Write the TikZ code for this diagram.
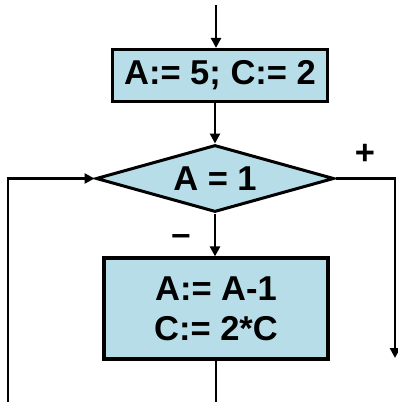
\documentclass[tikz,border=0pt]{standalone}
\usepackage{fontspec}
\setmainfont{Liberation Sans}
\usetikzlibrary{arrows.meta,shapes.geometric}
\definecolor{boxfill}{RGB}{183,222,232}
\begin{document}
\begin{tikzpicture}[x=1pt,y=-1pt,
  txt/.style={font=\fontsize{34.5}{40}\selectfont\bfseries, align=center},
  blk/.style={txt, draw=black, line width=3.2pt, fill=boxfill, inner sep=0pt},
  cond/.style={txt, diamond, draw=black, line width=3pt, fill=boxfill, inner sep=0pt, aspect=3.48},
  conn/.style={line width=2.8pt, -{Triangle[length=10pt,width=10pt]}},
  plainline/.style={line width=2.8pt}]
\useasboundingbox (0,0) rectangle (398,402);
\coordinate (top) at (216,5);
\coordinate (bot) at (216,410);
\coordinate (lb) at (8,410);
\coordinate (rb) at (395,358);
\node[blk, minimum width=215pt, minimum height=52pt] (init) at (220,75.5) {A:= 5; C:= 2};
\node[cond, minimum width=238pt, minimum height=67pt] (d) at (215,178.5) {A = 1};
\node[blk, minimum width=224pt, minimum height=101pt] (body) at (216,308.5) {A:= A-1\\C:= 2*C};
\node[txt] (plus) at (365,154) {+};
\node[txt] (minus) at (181,240) {–};
\draw[conn] (top) -- (top |- init.north);
\draw[conn] (d.north |- init.south) -- (d.north);
\draw[conn] (d.south) -- (d.south |- body.north);
\draw[plainline] (body.south -| bot) -- (bot);
\draw[conn] (lb) -- (lb |- d.west) -- (d.west);
\draw[conn] (d.east) -| (rb);
\end{tikzpicture}
\end{document}
